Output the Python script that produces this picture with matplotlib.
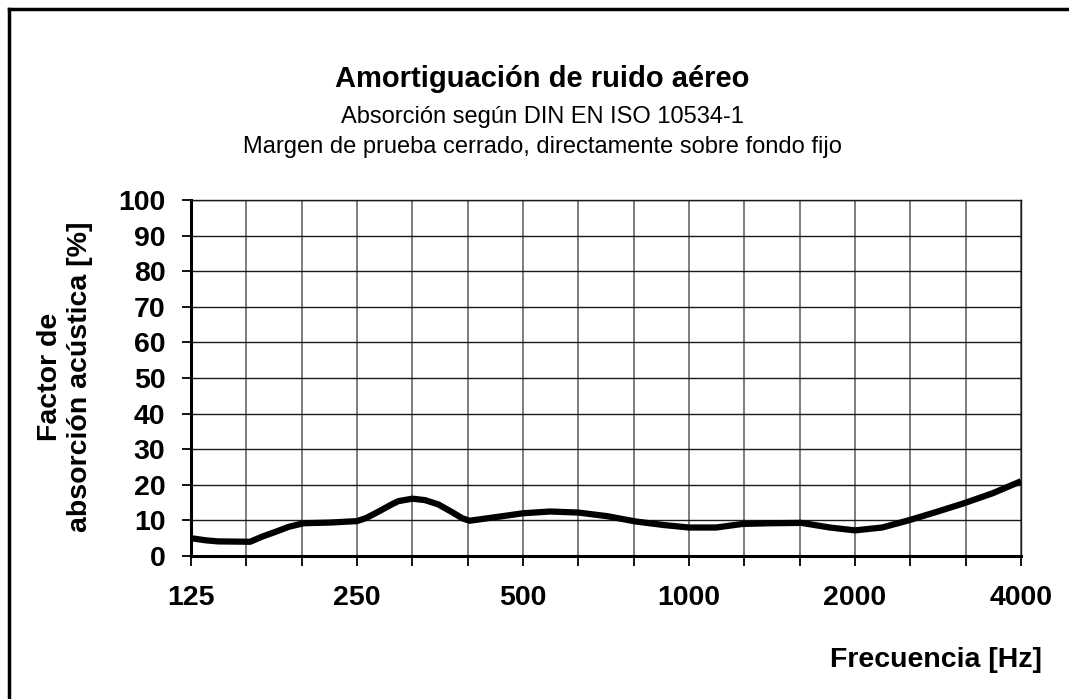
import matplotlib.pyplot as plt
from matplotlib.lines import Line2D
import numpy as np

plt.rcParams['font.family'] = ['Liberation Sans', 'DejaVu Sans']

# values (third-octave centres plus in-between readings)
freqs = [125, 133, 140, 160, 168, 178, 188, 200, 224, 250, 260, 273, 289, 297,
         315, 332, 351, 371, 388, 400, 450, 500, 560, 630, 710, 800, 900, 1000,
         1120, 1250, 1400, 1600, 1800, 2000, 2240, 2500, 2800, 3150, 3550, 4000]
absorption = [5.0, 4.4, 4.1, 4.0, 5.4, 6.8, 8.2, 9.2, 9.4, 9.8, 10.7, 12.4, 14.5,
              15.4, 16.1, 15.7, 14.5, 12.4, 10.6, 9.9, 11.0, 12.0, 12.5, 12.2,
              11.2, 9.7, 8.7, 8.0, 8.0, 9.0, 9.2, 9.3, 8.0, 7.2, 8.0, 10.0, 12.3,
              14.8, 17.6, 21.0]

third_octaves = 125 * 2 ** (np.arange(16) / 3)
octave_labels = ['125', '250', '500', '1000', '2000', '4000']
tick_labels = [octave_labels[i // 3] if i % 3 == 0 else '' for i in range(16)]
y_ticks = list(range(0, 101, 10))

fig = plt.figure(figsize=(10.69, 6.99), dpi=100)
ax = fig.add_axes([191 / 1069, 1 - 556 / 699, (1021 - 191) / 1069, (556 - 200) / 699])

ax.set_xscale('log')
ax.set_xlim(125, 4000)
ax.set_ylim(0, 100)

for f in third_octaves[1:]:
    ax.axvline(f, color='#5a5a5a', lw=1.1, zorder=1)
for y in y_ticks[1:]:
    ax.axhline(y, color='#1a1a1a', lw=1.0, zorder=1)

ax.plot(freqs, absorption, color='black', lw=4.5, solid_joinstyle='round',
        solid_capstyle='butt', zorder=3)

ax.set_xticks(third_octaves)
ax.set_xticklabels(tick_labels)
ax.xaxis.set_minor_locator(plt.NullLocator())
ax.set_yticks(y_ticks)
ax.tick_params(axis='x', direction='out', length=7, width=1.3, pad=14,
               labelsize=20.5)
ax.tick_params(axis='y', direction='out', length=6.5, width=1.3, pad=12,
               labelsize=20.5)
for lab in ax.get_xticklabels() + ax.get_yticklabels():
    lab.set_fontweight('bold')

for side in ['top', 'right']:
    ax.spines[side].set_linewidth(1.0)
    ax.spines[side].set_color('#1a1a1a')
for side in ['left', 'bottom']:
    ax.spines[side].set_linewidth(2.2)

cx = 542 / 1069
fig.text(cx, 1 - 87 / 699, 'Amortiguación de ruido aéreo',
         ha='center', va='baseline', fontsize=21, fontweight='bold')
fig.text(cx, 1 - 123 / 699, 'Absorción según DIN EN ISO 10534-1',
         ha='center', va='baseline', fontsize=17)
fig.text(cx, 1 - 153 / 699,
         'Margen de prueba cerrado, directamente sobre fondo fijo',
         ha='center', va='baseline', fontsize=17)

fig.text(65 / 1069, 1 - 377 / 699, 'Factor de\nabsorción acústica [%]',
         ha='center', va='center', rotation=90, fontsize=20.5, fontweight='bold',
         linespacing=1.2)
fig.text(1042 / 1069, 1 - 660 / 699, 'Frecuencia [Hz]',
         ha='right', va='center', fontsize=20.5, fontweight='bold')

# outer frame (right and bottom edges lie outside the picture)
fig.add_artist(Line2D([9 / 1069, 9 / 1069], [0, 1 - 9 / 699], color='black',
                      lw=2.5, transform=fig.transFigure))
fig.add_artist(Line2D([9 / 1069, 1], [1 - 9 / 699, 1 - 9 / 699], color='black',
                      lw=2.5, transform=fig.transFigure))

fig.savefig('out.png', dpi=100)
